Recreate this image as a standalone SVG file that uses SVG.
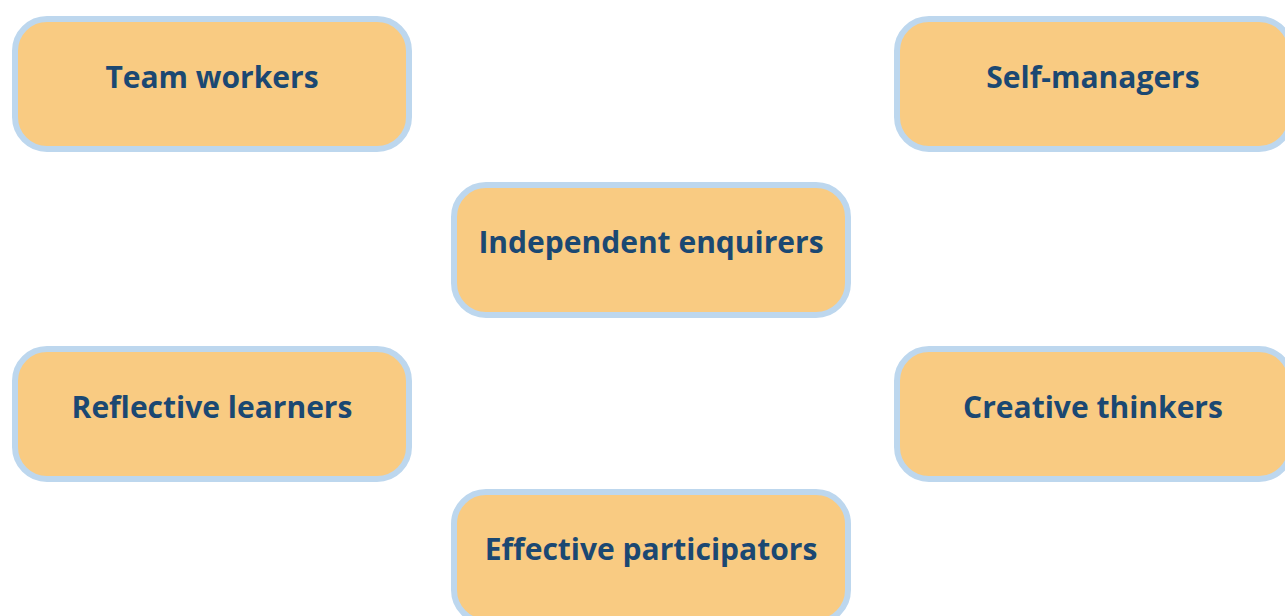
<svg xmlns="http://www.w3.org/2000/svg" width="1285" height="616" viewBox="0 0 1285 616">
<style>
.box{fill:#f9cb82;stroke:#bdd7ee;stroke-width:6}
.lbl{font-family:"Open Sans",Lato,sans-serif;font-weight:bold;font-size:30px;fill:#1b4872;text-anchor:middle}
</style>
<rect width="1285" height="616" fill="#ffffff"/>
<g id="connectors"></g>
<g id="team-workers"><rect class="box" x="15" y="19" width="394" height="130" rx="32"/><text class="lbl" x="212" y="88">Team workers</text></g>
<g id="self-managers"><rect class="box" x="897" y="19" width="394" height="130" rx="32"/><text class="lbl" x="1093" y="88">Self-managers</text></g>
<g id="independent-enquirers"><rect class="box" x="454" y="185" width="394" height="130" rx="32"/><text class="lbl" x="651" y="253">Independent enquirers</text></g>
<g id="reflective-learners"><rect class="box" x="15" y="349" width="394" height="130" rx="32"/><text class="lbl" x="212" y="418">Reflective learners</text></g>
<g id="creative-thinkers"><rect class="box" x="897" y="349" width="394" height="130" rx="32"/><text class="lbl" x="1093" y="418">Creative thinkers</text></g>
<g id="effective-participators"><rect class="box" x="454" y="492" width="394" height="130" rx="32"/><text class="lbl" x="651" y="560">Effective participators</text></g>
</svg>
